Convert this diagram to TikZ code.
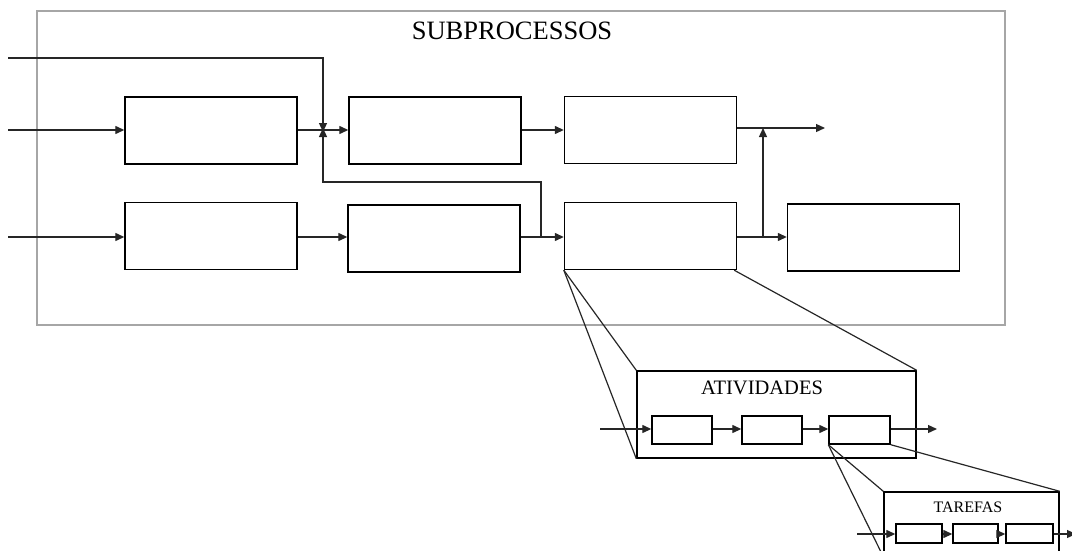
\documentclass[tikz,border=0pt]{standalone}
\usepackage{fontspec}
\setmainfont{Liberation Serif}
\usetikzlibrary{arrows.meta,positioning}

\begin{document}
\begin{tikzpicture}[
    x=1pt, y=-1pt,
    procbox/.style={rectangle, draw, line width=1.4pt, minimum width=172pt, minimum height=67pt, inner sep=0pt},
    actbox/.style={procbox, minimum width=60pt, minimum height=28pt},
    taskbox/.style={procbox, minimum width=46pt, minimum height=19pt},
    groupbox/.style={rectangle, draw, line width=1.4pt, inner sep=0pt},
    line/.style={draw, draw=black!85, line width=1.3pt, -{Triangle[length=9pt,width=8pt]}},
    zoomline/.style={draw, black!85, line width=1.2pt},
    title/.style={font=\fontsize{26.5}{30}\selectfont}
]
    \useasboundingbox (0,0) rectangle (1072,551);
    \clip (0,0) rectangle (1072,551);

    % Subprocessos
    \node [rectangle, draw=black!35, line width=1.2pt, minimum width=968pt, minimum height=314pt] (sub) at (521,168) {};
    \node [title] (subtitle) at (512,31) {SUBPROCESSOS};

    \node [procbox] (a) at (211,130.5) {};
    \node [procbox] (b) at (435,130.5) {};
    \node [procbox] (c) at (650.5,130) {};
    \node [procbox] (d) at (211,236) {};
    \node [procbox] (e) at (434,238.5) {};
    \node [procbox] (f) at (650.5,236) {};
    \node [procbox] (g) at (873.5,237.5) {};

    \coordinate (in1) at (8,58);
    \coordinate (in2) at (8,130);
    \coordinate (in3) at (8,237);
    \coordinate (join) at (323,130);
    \coordinate (out1) at (825,128);

    % Inputs
    \path [line] (in2) -- (a.west |- in2);
    \path [line] (in3) -- (d.west |- in3);
    \path [line] (in1) -| ([yshift=-2pt]join);

    % Flows
    \path [line] (a.east |- join) -- (b.west |- join);
    \path [line] (b.east |- c) -- (c.west);
    \path [line] (d.east |- in3) -- (e.west |- in3);
    \path [line] (e.east |- in3) -- (f.west |- in3);
    \path [line] (541,237) -- (541,182) -| ([yshift=2pt]join);
    \path [line] (c.east |- out1) -- (out1);
    \path [line] (f.east |- in3) -- (g.west |- in3);
    \path [line] (763,237) -- (763,128);

    % Atividades
    \node [groupbox, minimum width=279pt, minimum height=87pt] (atv) at (776.5,414.5) {};
    \node [font=\fontsize{20.5}{24}\selectfont] (atvtitle) at (762,388) {ATIVIDADES};
    \node [actbox] (act1) at (682,430) {};
    \node [actbox] (act2) at (772,430) {};
    \node [actbox, minimum width=61pt] (act3) at (859.5,430) {};

    \coordinate (atvin) at (600,429);
    \coordinate (atvout) at (937,429);
    \path [line] (atvin) -- (act1.west |- atvin);
    \path [line] (act1.east |- atvin) -- (act2.west |- atvin);
    \path [line] (act2.east |- atvin) -- (act3.west |- atvin);
    \path [line] (act3.east |- atvout) -- (atvout);

    \path [zoomline] (f.south west) -- (atv.north west);
    \path [zoomline] (f.south west) -- (atv.south west);
    \path [zoomline] ([xshift=-3pt]f.south east) -- (atv.north east);

    % Tarefas
    \node [groupbox, minimum width=175pt, minimum height=64pt] (tar) at (971.5,524) {};
    \node [font=\fontsize{16}{20}\selectfont] (tartitle) at (968,507) {TAREFAS};
    \node [taskbox] (task1) at (919,533.5) {};
    \node [taskbox, minimum width=45pt] (task2) at (975.5,533.5) {};
    \node [taskbox, minimum width=47pt] (task3) at (1029.5,533.5) {};

    \coordinate (tarin) at (857,534);
    \coordinate (tarout) at (1076,534);
    \path [line] (tarin) -- (task1.west |- tarin);
    \path [line] (task1.east |- tarin) -- (task2.west |- tarin);
    \path [line] (task2.east |- tarin) -- (task3.west |- tarin);
    \path [line] (task3.east |- tarout) -- (tarout);

    \path [zoomline] (act3.south west) -- (tar.north west);
    \path [zoomline] (act3.south west) -- (tar.south west);
    \path [zoomline] (act3.south east) -- (tar.north east);

\end{tikzpicture}
\end{document}
